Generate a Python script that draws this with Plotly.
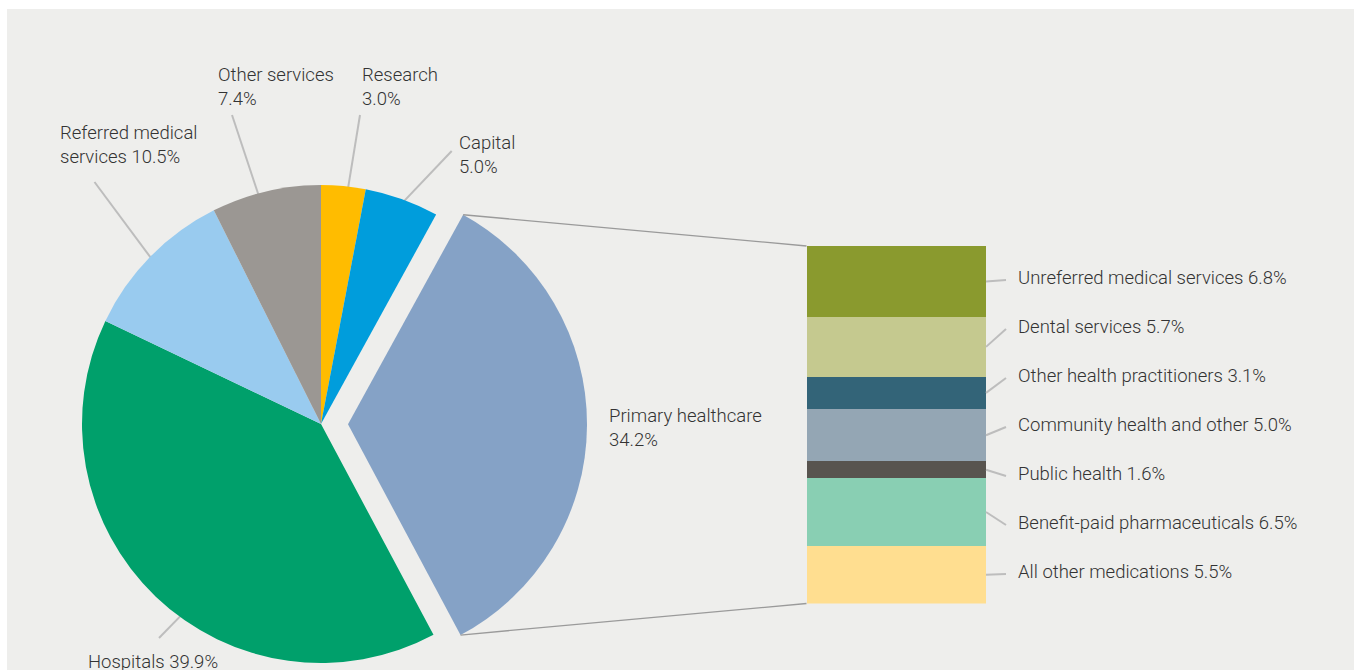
import math
import plotly.graph_objects as go

# ---------------- data ----------------
pie_labels = ["Research", "Capital", "Primary healthcare", "Hospitals",
              "Referred medical services", "Other services"]
pie_values = [3.0, 5.0, 34.2, 39.9, 10.5, 7.4]
pie_colors = ["#FFBC00", "#009DDC", "#85A2C6", "#00A06B", "#99CBEF", "#9B9793"]

primary_labels = ["Unreferred medical services", "Dental services",
                  "Other health practitioners", "Community health and other",
                  "Public health", "Benefit-paid pharmaceuticals",
                  "All other medications"]
primary_values = [6.8, 5.7, 3.1, 5.0, 1.6, 6.5, 5.5]
primary_colors = ["#8A9A2E", "#C5C98F", "#336478", "#94A6B4", "#58544F",
                  "#89CFB3", "#FFDE90"]

EXPLODED = "Primary healthcare"

# ---------------- layout constants (pixels) ----------------
W, H = 1357, 670
PIE_CX, PIE_CY, PIE_R = 321, 424, 239
EXPLODE_PX = 27
BAR_L, BAR_R, BAR_T, BAR_B = 806.5, 986, 246, 603.5
BAR_LABEL_X, BAR_LABEL_Y0, BAR_LABEL_DY = 1018, 278, 49
BAR_LEADER_END = 1006
LINE_H = 24
TEXT_DX = -2
FONT = "Roboto"
TEXT_COLOR = "#333333"
FONT_SIZE = 18.5
FONT_WEIGHT = 300
LEADER_COLOR = "#BDBDBD"
BG = "#EEEEEC"

# pie label placement: name -> (text lines, left x, first line centre y, leader outer point, anchor fraction)
pie_label_layout = {
    "Other services": (["Other services", "{v}%"], 218, 75, (232, 115), 0.43),
    "Research": (["Research", "{v}%"], 362, 75, (360, 115), 0.6),
    "Referred medical services": (["Referred medical", "services {v}%"], 60, 133, (94.5, 182), 0.49),
    "Capital": (["Capital", "{v}%"], 459, 143, (451.7, 151), 0.5),
    "Primary healthcare": (["Primary healthcare", "{v}%"], 609, 416, None, 0.5),
    "Hospitals": (["Hospitals {v}%"], 88, 662, (159, 638), 0.446),
}


def X(px):
    return px / W


def Y(py):
    return 1 - py / H


total = sum(pie_values)
cum = []
acc = 0
for v in pie_values:
    cum.append(acc)
    acc += v


def rim(cx, cy, r, frac):
    a = 2 * math.pi * frac
    return cx + r * math.sin(a), cy - r * math.cos(a)


ei = pie_labels.index(EXPLODED)
mid_frac = (cum[ei] + pie_values[ei] / 2) / total
ex_dx = EXPLODE_PX * math.sin(2 * math.pi * mid_frac)
ex_dy = -EXPLODE_PX * math.cos(2 * math.pi * mid_frac)


def pie_domain(cx, cy, r):
    return dict(x=[X(cx - r), X(cx + r)], y=[Y(cy + r), Y(cy - r)])


fig = go.Figure()

# main pie (exploded slice hidden)
fig.add_trace(go.Pie(
    labels=pie_labels, values=pie_values, sort=False, direction="clockwise",
    rotation=0, textinfo="none", hoverinfo="label+percent", showlegend=False,
    marker=dict(colors=[("rgba(0,0,0,0)" if l == EXPLODED else c)
                        for l, c in zip(pie_labels, pie_colors)],
                line=dict(width=0)),
    domain=pie_domain(PIE_CX, PIE_CY, PIE_R),
))
# exploded slice, same pie shifted outward
fig.add_trace(go.Pie(
    labels=pie_labels, values=pie_values, sort=False, direction="clockwise",
    rotation=0, textinfo="none", hoverinfo="skip", showlegend=False,
    marker=dict(colors=[(c if l == EXPLODED else "rgba(0,0,0,0)")
                        for l, c in zip(pie_labels, pie_colors)],
                line=dict(width=0)),
    domain=pie_domain(PIE_CX + ex_dx, PIE_CY + ex_dy, PIE_R),
))

# stacked bar for the breakdown
for lab, v, c in zip(primary_labels, primary_values, primary_colors):
    fig.add_trace(go.Bar(x=[0], y=[v], name=lab, marker=dict(color=c, line=dict(width=0)),
                         width=1, showlegend=False, hoverinfo="name+y"))

shapes = [dict(type="rect", xref="paper", yref="paper", x0=X(7), x1=X(1354),
               y0=Y(9), y1=Y(H + 5), fillcolor=BG, line=dict(width=0), layer="below")]
annotations = []
text_font = dict(family=FONT, size=FONT_SIZE, color=TEXT_COLOR, weight=FONT_WEIGHT)

# pie labels and leaders
for i, lab in enumerate(pie_labels):
    lines, lx, ly, outer, af = pie_label_layout[lab]
    for k, t in enumerate(lines):
        annotations.append(dict(text=t.format(v=f"{pie_values[i]:.1f}"), x=X(lx + TEXT_DX),
                                y=Y(ly + k * LINE_H),
                                xref="paper", yref="paper", xanchor="left", yanchor="middle",
                                showarrow=False, align="left", font=text_font))
    if outer is not None:
        frac = (cum[i] + pie_values[i] * af) / total
        ix, iy = rim(PIE_CX, PIE_CY, PIE_R * 0.97, frac)
        shapes.append(dict(type="line", xref="paper", yref="paper",
                           x0=X(outer[0]), y0=Y(outer[1]), x1=X(ix), y1=Y(iy),
                           line=dict(color=LEADER_COLOR, width=2), layer="below"))

# connector lines from exploded slice to the bar
ecx, ecy = PIE_CX + ex_dx, PIE_CY + ex_dy
tx, ty = rim(ecx, ecy, PIE_R, cum[ei] / total)
bx, by = rim(ecx, ecy, PIE_R, (cum[ei] + pie_values[ei]) / total)
for (sx, sy), (dx_, dy_) in [((tx, ty), (BAR_L, BAR_T)), ((bx, by), (BAR_L, BAR_B))]:
    shapes.append(dict(type="line", xref="paper", yref="paper",
                       x0=X(sx), y0=Y(sy), x1=X(dx_), y1=Y(dy_),
                       line=dict(color="#9A9A9A", width=1.3)))

# bar labels and leaders
ptotal = sum(primary_values)
scale = (BAR_B - BAR_T) / ptotal
acc = 0
for k, (lab, v) in enumerate(zip(primary_labels, primary_values)):
    mid_py = BAR_T + (acc + v / 2) * scale
    acc += v
    label_y = BAR_LABEL_Y0 + k * BAR_LABEL_DY
    annotations.append(dict(text=f"{lab} {v:.1f}%", x=X(BAR_LABEL_X + TEXT_DX), y=Y(label_y),
                            xref="paper", yref="paper", xanchor="left", yanchor="middle",
                            showarrow=False, font=text_font))
    shapes.append(dict(type="line", xref="paper", yref="paper",
                       x0=X(BAR_R), y0=Y(mid_py), x1=X(BAR_LEADER_END), y1=Y(label_y + 2),
                       line=dict(color=LEADER_COLOR, width=2)))

fig.update_layout(
    width=W, height=H, margin=dict(l=0, r=0, t=0, b=0),
    paper_bgcolor="white", plot_bgcolor="rgba(0,0,0,0)",
    barmode="stack", bargap=0,
    xaxis=dict(domain=[X(BAR_L), X(BAR_R)], range=[-0.5, 0.5], visible=False, fixedrange=True),
    yaxis=dict(domain=[Y(BAR_B), Y(BAR_T)], range=[ptotal, 0], visible=False, fixedrange=True),
    shapes=shapes, annotations=annotations,
    font=dict(family=FONT, color=TEXT_COLOR),
)

fig.write_html("out.html")
